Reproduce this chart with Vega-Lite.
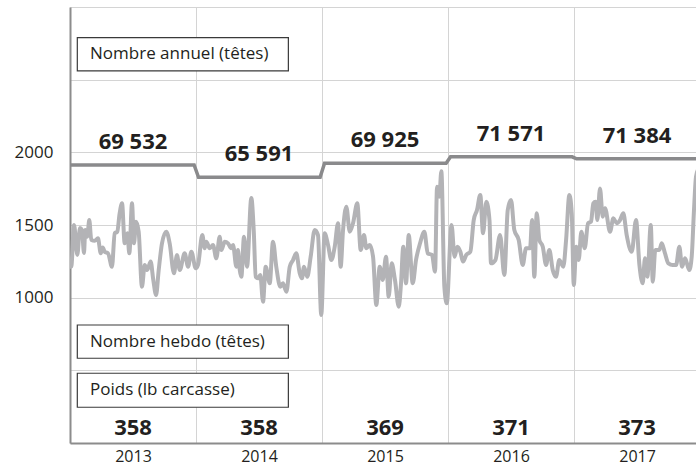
{
  "$schema": "https://vega.github.io/schema/vega-lite/v6.json",
  "width": 626,
  "height": 436,
  "autosize": {"type": "none"},
  "padding": {"left": 70, "top": 7, "right": 0, "bottom": 25},
  "background": "white",
  "config": {
    "view": {"stroke": null},
    "font": "Open Sans",
    "axis": {"labelFont": "Open Sans", "labelColor": "#231f20", "gridColor": "#d4d4d4", "gridWidth": 1, "domainColor": "#8c8c8c", "domainWidth": 2, "ticks": false}
  },
  "datasets": {
    "hebdo": [
      {"t": 2013.0, "n": 1213}, {"t": 2013.01, "n": 1213}, {"t": 2013.032, "n": 1500}, {"t": 2013.058, "n": 1294}, {"t": 2013.079, "n": 1479},
      {"t": 2013.095, "n": 1466}, {"t": 2013.111, "n": 1307}, {"t": 2013.121, "n": 1466}, {"t": 2013.137, "n": 1420}, {"t": 2013.153, "n": 1534},
      {"t": 2013.169, "n": 1397}, {"t": 2013.196, "n": 1392}, {"t": 2013.222, "n": 1408}, {"t": 2013.244, "n": 1305}, {"t": 2013.26, "n": 1346},
      {"t": 2013.275, "n": 1316}, {"t": 2013.302, "n": 1305}, {"t": 2013.333, "n": 1213}, {"t": 2013.355, "n": 1443}, {"t": 2013.375, "n": 1454},
      {"t": 2013.394, "n": 1580}, {"t": 2013.413, "n": 1649}, {"t": 2013.434, "n": 1374}, {"t": 2013.455, "n": 1443}, {"t": 2013.471, "n": 1305},
      {"t": 2013.492, "n": 1649}, {"t": 2013.508, "n": 1374}, {"t": 2013.524, "n": 1523}, {"t": 2013.545, "n": 1454}, {"t": 2013.571, "n": 1075},
      {"t": 2013.593, "n": 1225}, {"t": 2013.613, "n": 1190}, {"t": 2013.64, "n": 1248}, {"t": 2013.661, "n": 1122}, {"t": 2013.683, "n": 1018},
      {"t": 2013.704, "n": 1190}, {"t": 2013.73, "n": 1374}, {"t": 2013.764, "n": 1454}, {"t": 2013.791, "n": 1374}, {"t": 2013.825, "n": 1168},
      {"t": 2013.849, "n": 1294}, {"t": 2013.871, "n": 1190}, {"t": 2013.91, "n": 1305}, {"t": 2013.937, "n": 1213}, {"t": 2013.963, "n": 1316},
      {"t": 2013.998, "n": 1202},
      {"t": 2014.016, "n": 1225}, {"t": 2014.05, "n": 1431}, {"t": 2014.069, "n": 1340}, {"t": 2014.082, "n": 1385}, {"t": 2014.109, "n": 1340},
      {"t": 2014.135, "n": 1362}, {"t": 2014.161, "n": 1271}, {"t": 2014.188, "n": 1420}, {"t": 2014.201, "n": 1328}, {"t": 2014.228, "n": 1385},
      {"t": 2014.254, "n": 1374}, {"t": 2014.28, "n": 1340}, {"t": 2014.294, "n": 1362}, {"t": 2014.32, "n": 1213}, {"t": 2014.333, "n": 1328},
      {"t": 2014.347, "n": 1190}, {"t": 2014.36, "n": 1144}, {"t": 2014.381, "n": 1420}, {"t": 2014.405, "n": 1213}, {"t": 2014.439, "n": 1686},
      {"t": 2014.458, "n": 1466}, {"t": 2014.474, "n": 1144}, {"t": 2014.492, "n": 1133}, {"t": 2014.51, "n": 1156}, {"t": 2014.532, "n": 972},
      {"t": 2014.553, "n": 1213}, {"t": 2014.585, "n": 1099}, {"t": 2014.611, "n": 1385}, {"t": 2014.637, "n": 1213}, {"t": 2014.669, "n": 1075},
      {"t": 2014.69, "n": 1099}, {"t": 2014.717, "n": 1041}, {"t": 2014.744, "n": 1213}, {"t": 2014.77, "n": 1259}, {"t": 2014.796, "n": 1305},
      {"t": 2014.823, "n": 1168}, {"t": 2014.841, "n": 1133}, {"t": 2014.857, "n": 1213}, {"t": 2014.883, "n": 1144}, {"t": 2014.91, "n": 1282},
      {"t": 2014.942, "n": 1466}, {"t": 2014.968, "n": 1431}, {"t": 2014.994, "n": 881},
      {"t": 2015.021, "n": 1443}, {"t": 2015.048, "n": 1362}, {"t": 2015.074, "n": 1259}, {"t": 2015.101, "n": 1351}, {"t": 2015.127, "n": 1512},
      {"t": 2015.148, "n": 1213}, {"t": 2015.167, "n": 1466}, {"t": 2015.193, "n": 1626}, {"t": 2015.22, "n": 1454}, {"t": 2015.246, "n": 1512},
      {"t": 2015.28, "n": 1649}, {"t": 2015.307, "n": 1328}, {"t": 2015.333, "n": 1431}, {"t": 2015.352, "n": 1340}, {"t": 2015.379, "n": 1362},
      {"t": 2015.405, "n": 1282}, {"t": 2015.431, "n": 950}, {"t": 2015.458, "n": 1213}, {"t": 2015.482, "n": 1122}, {"t": 2015.508, "n": 1282},
      {"t": 2015.529, "n": 1007}, {"t": 2015.553, "n": 1236}, {"t": 2015.579, "n": 1122}, {"t": 2015.609, "n": 938}, {"t": 2015.627, "n": 1099},
      {"t": 2015.645, "n": 1351}, {"t": 2015.667, "n": 1099}, {"t": 2015.688, "n": 1431}, {"t": 2015.72, "n": 1099}, {"t": 2015.746, "n": 1259},
      {"t": 2015.778, "n": 1374}, {"t": 2015.812, "n": 1454}, {"t": 2015.839, "n": 1305}, {"t": 2015.873, "n": 1294}, {"t": 2015.897, "n": 1179},
      {"t": 2015.913, "n": 1764}, {"t": 2015.931, "n": 1695}, {"t": 2015.947, "n": 1870}, {"t": 2015.971, "n": 1075}, {"t": 2015.99, "n": 961},
      {"t": 2016.028, "n": 1500}, {"t": 2016.052, "n": 1282}, {"t": 2016.074, "n": 1351}, {"t": 2016.098, "n": 1316}, {"t": 2016.119, "n": 1248},
      {"t": 2016.145, "n": 1294}, {"t": 2016.177, "n": 1316}, {"t": 2016.204, "n": 1534}, {"t": 2016.23, "n": 1603}, {"t": 2016.256, "n": 1707},
      {"t": 2016.278, "n": 1443}, {"t": 2016.304, "n": 1660}, {"t": 2016.329, "n": 1534}, {"t": 2016.341, "n": 1236}, {"t": 2016.376, "n": 1259},
      {"t": 2016.413, "n": 1431}, {"t": 2016.447, "n": 1156}, {"t": 2016.474, "n": 1603}, {"t": 2016.5, "n": 1672}, {"t": 2016.526, "n": 1466},
      {"t": 2016.561, "n": 1397}, {"t": 2016.593, "n": 1225}, {"t": 2016.619, "n": 1340}, {"t": 2016.651, "n": 1340}, {"t": 2016.667, "n": 1534},
      {"t": 2016.685, "n": 1144}, {"t": 2016.704, "n": 1580}, {"t": 2016.725, "n": 1397}, {"t": 2016.752, "n": 1351}, {"t": 2016.778, "n": 1225},
      {"t": 2016.804, "n": 1328}, {"t": 2016.831, "n": 1190}, {"t": 2016.857, "n": 1144}, {"t": 2016.883, "n": 1259}, {"t": 2016.915, "n": 1213},
      {"t": 2016.937, "n": 1397}, {"t": 2016.963, "n": 1707}, {"t": 2016.982, "n": 1580}, {"t": 2016.998, "n": 1087},
      {"t": 2017.018, "n": 1351}, {"t": 2017.037, "n": 1259}, {"t": 2017.058, "n": 1454}, {"t": 2017.085, "n": 1340}, {"t": 2017.111, "n": 1512},
      {"t": 2017.135, "n": 1523}, {"t": 2017.153, "n": 1649}, {"t": 2017.171, "n": 1660}, {"t": 2017.185, "n": 1534}, {"t": 2017.206, "n": 1752},
      {"t": 2017.228, "n": 1557}, {"t": 2017.246, "n": 1615}, {"t": 2017.286, "n": 1454}, {"t": 2017.312, "n": 1546}, {"t": 2017.339, "n": 1512},
      {"t": 2017.365, "n": 1534}, {"t": 2017.391, "n": 1580}, {"t": 2017.418, "n": 1431}, {"t": 2017.458, "n": 1316}, {"t": 2017.492, "n": 1534},
      {"t": 2017.519, "n": 1225}, {"t": 2017.545, "n": 1099}, {"t": 2017.563, "n": 1271}, {"t": 2017.582, "n": 1144}, {"t": 2017.609, "n": 1500},
      {"t": 2017.625, "n": 1110}, {"t": 2017.645, "n": 1328}, {"t": 2017.677, "n": 1328}, {"t": 2017.696, "n": 1374}, {"t": 2017.722, "n": 1305},
      {"t": 2017.749, "n": 1236}, {"t": 2017.783, "n": 1225}, {"t": 2017.81, "n": 1225}, {"t": 2017.836, "n": 1351}, {"t": 2017.857, "n": 1213},
      {"t": 2017.881, "n": 1271}, {"t": 2017.915, "n": 1190}, {"t": 2017.934, "n": 1282}, {"t": 2017.952, "n": 1603}, {"t": 2017.968, "n": 1832},
      {"t": 2017.984, "n": 1880}
    ],
    "annuel_ligne": [
      {"t": 2013.0, "niveau": 1913}, {"t": 2013.985, "niveau": 1913},
      {"t": 2014.02, "niveau": 1828}, {"t": 2014.985, "niveau": 1828},
      {"t": 2015.02, "niveau": 1925}, {"t": 2015.985, "niveau": 1925},
      {"t": 2016.02, "niveau": 1969}, {"t": 2016.985, "niveau": 1969},
      {"t": 2017.02, "niveau": 1955}, {"t": 2018.0, "niveau": 1955}
    ],
    "annees": [
      {"annee": 2013, "milieu": 2013.5, "niveau": 1913, "total": "69 532", "poids": "358"},
      {"annee": 2014, "milieu": 2014.5, "niveau": 1828, "total": "65 591", "poids": "358"},
      {"annee": 2015, "milieu": 2015.5, "niveau": 1925, "total": "69 925", "poids": "369"},
      {"annee": 2016, "milieu": 2016.5, "niveau": 1969, "total": "71 571", "poids": "371"},
      {"annee": 2017, "milieu": 2017.5, "niveau": 1955, "total": "71 384", "poids": "373"}
    ]
  },
  "layer": [
    {
      "data": {"name": "hebdo"},
      "mark": {"type": "line", "color": "#b3b3b6", "strokeWidth": 4, "interpolate": "monotone", "clip": true, "strokeJoin": "round"},
      "encoding": {
        "x": {
          "field": "t", "type": "quantitative", "title": null,
          "scale": {"domain": [2013, 2017.968], "nice": false, "zero": false},
          "axis": {"values": [2013, 2014, 2015, 2016, 2017], "format": "d", "labelOffset": 63, "labelFlush": false, "labelPadding": 5, "labelFontSize": 16, "grid": true, "labelOverlap": false}
        },
        "y": {
          "field": "n", "type": "quantitative", "title": null,
          "scale": {"domain": [0, 3000], "nice": false},
          "axis": {"values": [0, 500, 1000, 1500, 2000, 2500, 3000], "format": "d", "labelExpr": "datum.value >= 1000 && datum.value <= 2000 ? datum.label : ''", "labelPadding": 17, "labelFontSize": 17, "grid": true}
        }
      }
    },
    {
      "data": {"name": "annuel_ligne"},
      "mark": {"type": "line", "color": "#8a8a8c", "strokeWidth": 3.5, "clip": true},
      "encoding": {
        "x": {"field": "t", "type": "quantitative", "title": null},
        "y": {"field": "niveau", "type": "quantitative", "title": null}
      }
    },
    {
      "data": {"name": "annees"},
      "mark": {"type": "text", "font": "Open Sans", "fontSize": 22, "fontWeight": "bold", "color": "#231f20", "baseline": "alphabetic", "dy": -16},
      "encoding": {
        "x": {"field": "milieu", "type": "quantitative", "title": null},
        "y": {"field": "niveau", "type": "quantitative", "title": null},
        "text": {"field": "total"}
      }
    },
    {
      "data": {"name": "annees"},
      "mark": {"type": "text", "font": "Open Sans", "fontSize": 22, "fontWeight": "bold", "color": "#231f20", "baseline": "alphabetic"},
      "encoding": {
        "x": {"field": "milieu", "type": "quantitative", "title": null},
        "y": {"datum": 55, "type": "quantitative"},
        "text": {"field": "poids"}
      }
    },
    {
      "data": {"values": [{"libelle": "Nombre annuel (têtes)"}]},
      "layer": [
        {
          "mark": {"type": "rect", "fill": "white", "stroke": "#3a3a3a", "strokeWidth": 1.2},
          "encoding": {
            "x": {"datum": 2013.058, "type": "quantitative"}, "x2": {"datum": 2014.733},
            "y": {"datum": 2789, "type": "quantitative"}, "y2": {"datum": 2560}
          }
        },
        {
          "mark": {"type": "text", "font": "Open Sans", "fontSize": 17, "color": "#231f20", "align": "left", "baseline": "middle"},
          "encoding": {
            "x": {"datum": 2013.159, "type": "quantitative"},
            "y": {"datum": 2674, "type": "quantitative"},
            "text": {"field": "libelle"}
          }
        }
      ]
    },
    {
      "data": {"values": [{"libelle": "Nombre hebdo (têtes)"}]},
      "layer": [
        {
          "mark": {"type": "rect", "fill": "white", "stroke": "#3a3a3a", "strokeWidth": 1.2},
          "encoding": {
            "x": {"datum": 2013.058, "type": "quantitative"}, "x2": {"datum": 2014.733},
            "y": {"datum": 812, "type": "quantitative"}, "y2": {"datum": 583}
          }
        },
        {
          "mark": {"type": "text", "font": "Open Sans", "fontSize": 17, "color": "#231f20", "align": "left", "baseline": "middle"},
          "encoding": {
            "x": {"datum": 2013.159, "type": "quantitative"},
            "y": {"datum": 697, "type": "quantitative"},
            "text": {"field": "libelle"}
          }
        }
      ]
    },
    {
      "data": {"values": [{"libelle": "Poids (lb carcasse)"}]},
      "layer": [
        {
          "mark": {"type": "rect", "fill": "white", "stroke": "#3a3a3a", "strokeWidth": 1.2},
          "encoding": {
            "x": {"datum": 2013.058, "type": "quantitative"}, "x2": {"datum": 2014.733},
            "y": {"datum": 480, "type": "quantitative"}, "y2": {"datum": 246}
          }
        },
        {
          "mark": {"type": "text", "font": "Open Sans", "fontSize": 17, "color": "#231f20", "align": "left", "baseline": "middle"},
          "encoding": {
            "x": {"datum": 2013.159, "type": "quantitative"},
            "y": {"datum": 363, "type": "quantitative"},
            "text": {"field": "libelle"}
          }
        }
      ]
    }
  ]
}
